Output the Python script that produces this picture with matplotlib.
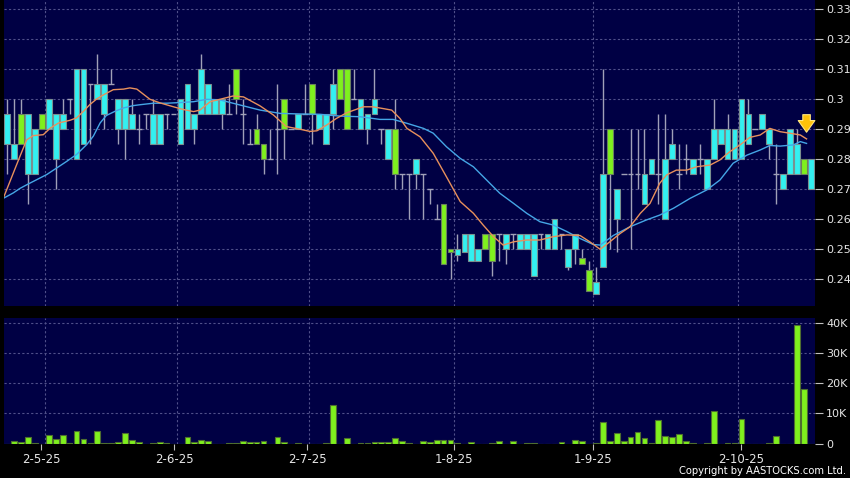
import matplotlib
matplotlib.use("Agg")
import matplotlib.pyplot as plt
import numpy as np

# ---------------- data ----------------
opens = [
    .285, .28, .295, .275, .275, .295, .29, .28, .29, .30,
    .28, .285, .305, .30, .295, .305, .29, .29, .29, .29,
    .295, .285, .285, .295, .295, .285, .29, .29, .295, .295,
    .295, .295, .295, .31, .295, .285, .29, .285, .28, .29,
    .30, .29, .29, .295, .305, .29, .285, .295, .31, .31,
    .30, .29, .29, .295, .29, .28, .29, .275, .275, .275,
    .275, .27, .26, .265, .25, .248, .249, .246, .246, .255,
    .255, .255, .25, .255, .25, .25, .241, .255, .25, .25,
    .255, .244, .25, .247, .243, .235, .244, .29, .26, .275,
    .275, .275, .265, .275, .275, .26, .28, .275, .28, .275,
    .28, .27, .28, .285, .28, .28, .28, .285, .29, .29,
    .285, .275, .27, .275, .275, .28, .27]
closes = [
    .295, .285, .285, .295, .29, .29, .30, .295, .295, .30,
    .31, .31, .305, .305, .305, .305, .30, .30, .295, .29,
    .295, .295, .295, .295, .295, .30, .305, .295, .31, .305,
    .30, .30, .295, .30, .295, .285, .285, .28, .28, .29,
    .29, .29, .295, .295, .295, .295, .295, .305, .30, .29,
    .30, .30, .295, .30, .29, .29, .275, .275, .275, .28,
    .275, .27, .26, .245, .249, .25, .255, .255, .25, .25,
    .246, .255, .255, .255, .255, .255, .255, .255, .255, .26,
    .255, .25, .255, .245, .236, .239, .275, .275, .27, .275,
    .275, .275, .275, .28, .275, .28, .285, .275, .28, .28,
    .28, .28, .29, .29, .29, .29, .30, .295, .29, .295,
    .29, .275, .275, .29, .285, .275, .28]
highs = [
    .30, .30, .30, .295, .29, .295, .30, .295, .30, .30,
    .31, .31, .305, .315, .305, .31, .30, .30, .30, .295,
    .295, .30, .295, .295, .295, .30, .305, .295, .315, .305,
    .30, .30, .305, .31, .30, .29, .295, .285, .29, .305,
    .30, .29, .295, .305, .305, .295, .295, .31, .31, .31,
    .31, .30, .295, .31, .29, .29, .30, .275, .275, .28,
    .275, .27, .265, .265, .25, .255, .255, .255, .25, .255,
    .255, .255, .255, .255, .255, .255, .255, .255, .255, .26,
    .255, .25, .255, .25, .246, .244, .31, .29, .27, .275,
    .29, .29, .29, .28, .295, .295, .29, .285, .285, .28,
    .285, .28, .30, .29, .295, .29, .30, .30, .29, .295,
    .29, .285, .275, .29, .29, .28, .28]
lows = [
    .275, .28, .285, .265, .275, .29, .29, .27, .29, .295,
    .28, .285, .285, .30, .29, .305, .285, .28, .29, .285,
    .29, .285, .285, .29, .295, .285, .29, .285, .295, .295,
    .295, .29, .295, .295, .285, .285, .285, .275, .28, .275,
    .28, .29, .29, .295, .285, .29, .285, .29, .30, .29,
    .30, .29, .285, .295, .285, .28, .27, .27, .26, .27,
    .26, .265, .26, .245, .24, .246, .249, .246, .246, .25,
    .241, .246, .245, .25, .25, .25, .241, .25, .25, .25,
    .25, .243, .245, .245, .236, .235, .244, .25, .249, .275,
    .25, .27, .265, .275, .265, .26, .28, .27, .275, .275,
    .275, .27, .28, .285, .28, .28, .28, .285, .29, .29,
    .28, .265, .27, .275, .275, .275, .27]
volume_k = [
    0, 0.8, 0.6, 2.3, 0.3, 0, 2.7, 1.6, 2.8, 0.2,
    4.1, 1.4, 0.3, 4.1, 0.3, 0.2, 0.4, 3.4, 1.0, 0.4,
    0, 0.3, 0.4, 0.3, 0, 0, 2.2, 0.4, 1.2, 0.7,
    0, 0, 0.2, 0.1, 0.8, 0.4, 0.4, 0.8, 0, 2.0,
    0.4, 0, 0.1, 0, 0, 0, 0.2, 12.8, 0, 1.7,
    0, 0.3, 0.3, 0.4, 0.4, 0.4, 1.9, 0.7, 0.2, 0,
    0.8, 0.5, 1.0, 1.1, 1.2, 0.1, 0, 0.4, 0, 0,
    0.3, 0.7, 0, 0.8, 0, 0.1, 0.1, 0, 0, 0,
    0.4, 0, 1.1, 0.7, 0, 0.3, 7.0, 0.7, 3.4, 0.8,
    2.2, 3.7, 1.8, 0.3, 7.7, 2.6, 2.2, 3.0, 0.8, 0.3,
    0, 0.3, 10.8, 0, 0.2, 0.2, 8.0, 0, 0, 0,
    0.3, 2.4, 0, 0, 39.4, 18.0, 0]

# moving averages (bar index, value)
ma10_x = [-0.48, 1.83, 2.8, 3.76, 5.2, 6.2, 7.4, 9.05, 10, 11, 11.9, 12.9, 13.9,
          15.3, 16.8, 17.7, 18.7, 20.6, 22.05, 24, 25.4, 26.9, 27.8, 29.3, 30.7,
          32.6, 34.1, 36.5, 38.4, 40.3, 42.3, 43.7, 44.7, 46.1, 47.5, 49, 51.4,
          52.8, 54.05, 55.5, 56.7, 57.7, 59.6, 61.5, 63.4, 65.4, 67.3, 68.7, 70.2,
          71.6, 73.1, 75, 76.9, 78.8, 80.8, 82.7, 84.1, 85.6, 87, 88.5, 89.9, 91.4,
          92.8, 94.2, 95.2, 96.6, 98.1, 99.5, 101.5, 102.9, 104.3, 105.8, 107.2,
          108.7, 110.1, 111.6, 113, 114.5, 115.4]
ma10_v = [.2675, .2809, .2864, .2878, .2881, .2903, .292, .2929, .2937, .2959, .2981,
          .30, .3014, .3031, .3033, .3037, .3033, .2999, .2987, .2974, .2965, .2958,
          .2963, .2991, .2999, .301, .3007, .2977, .2947, .2908, .2899, .2892, .2894,
          .2913, .2935, .2954, .2974, .2974, .2969, .2963, .2935, .2902, .2874, .2819,
          .2741, .2658, .2619, .258, .2541, .2513, .2524, .253, .253, .2541, .2547,
          .2545, .2524, .2499, .2524, .2552, .2574, .2619, .2652, .2719, .2747, .2763,
          .2763, .2774, .278, .2797, .2824, .2847, .2872, .288, .2902, .2891, .2886,
          .288, .2867]
ma20_x = [-0.48, 0.87, 1.83, 2.8, 4.24, 5.68, 7.13, 8.57, 10, 11.46, 12.42, 13.4,
          14.3, 15.55, 16.75, 18.2, 19.2, 21.1, 23, 24.9, 26.9, 28.8, 30.7, 33.6,
          36.5, 39.4, 42.3, 45.1, 48, 50.9, 53.8, 55.7, 57.7, 60.1, 61.5, 63.4, 65.4,
          67.3, 69.2, 71.1, 73.1, 75, 76.9, 78.8, 80.8, 82.7, 84.6, 85.6, 87.5, 89.9,
          92.3, 94.2, 96.2, 98.6, 101, 102.9, 104.8, 106.8, 108.7, 110.1, 111.6,
          113.5, 114.5, 115.4]
ma20_v = [.2670, .2687, .2702, .2714, .2731, .2748, .277, .2792, .2815, .2848, .2876,
          .292, .2945, .2959, .297, .2978, .2981, .2986, .2986, .2988, .2991, .2999,
          .2997, .298, .2963, .2952, .295, .2949, .2943, .2941, .2932, .2932, .2919,
          .2902, .2886, .2841, .2802, .2774, .273, .2686, .2652, .2619, .2591, .258,
          .2558, .2535, .2515, .2513, .2545, .2574, .2597, .2613, .2636, .2669, .2697,
          .273, .2786, .2813, .283, .2845, .2843, .2847, .2858, .2852]

price_ticks = [0.24, 0.25, 0.26, 0.27, 0.28, 0.29, 0.30, 0.31, 0.32, 0.33]
price_labels = ["0.24", "0.25", "0.26", "0.27", "0.28", "0.29", "0.3", "0.31", "0.32", "0.33"]
vol_ticks = [0, 10000, 20000, 30000, 40000]
vol_labels = ["0", "10K", "20K", "30K", "40K"]
date_labels = ["2-5-25", "2-6-25", "2-7-25", "1-8-25", "1-9-25", "2-10-25"]
date_pos = [4.9, 24.1, 43.3, 64.5, 84.5, 105.9]
grid_pos = [5.5, 24.5, 43.5, 64.5, 84.5, 105.5]

# ---------------- styling ----------------
NAVY = "#000044"
CYAN = "#33F0F0"
LIME = "#7FF01E"
GRID = "#50508a"
TXT = "#e6e6e6"

W, H = 850, 478
fig = plt.figure(figsize=(W / 100, H / 100), dpi=100, facecolor="black")
ax = fig.add_axes([4 / W, 1 - 306 / H, 811 / W, 306 / H], facecolor=NAVY)
axv = fig.add_axes([4 / W, 1 - 443.5 / H, 811 / W, 125.5 / H], facecolor=NAVY)

n = len(closes)
x = np.arange(n)
o = np.array(opens); c = np.array(closes)
h = np.array(highs); l = np.array(lows)
xlim = (-0.476, 116.62)

for a in (ax, axv):
    a.set_xlim(*xlim)
    for s in a.spines.values():
        s.set_visible(False)
    for g in grid_pos:
        a.axvline(g, color=GRID, lw=0.8, ls=(0, (2, 2)), zorder=1)

# price panel
ax.set_ylim(0.231, 0.333)
for p in price_ticks:
    ax.axhline(p, color=GRID, lw=0.8, ls=(0, (2, 2)), zorder=1)

ax.vlines(x, l, h, color="#a0a0b8", lw=1.0, zorder=2)
bw = 0.82
up = c > o
dn = c < o
fl = c == o
ax.bar(x[up], (c - o)[up], bottom=o[up], width=bw, color=CYAN,
       edgecolor="#7a9090", linewidth=0.8, zorder=3)
ax.bar(x[dn], (o - c)[dn], bottom=c[dn], width=bw, color=LIME,
       edgecolor="#6a8060", linewidth=0.8, zorder=3)
ax.hlines(c[fl], x[fl] - bw / 2, x[fl] + bw / 2, color="#a0a0b8", lw=1.0, zorder=3)

ax.plot(ma20_x, ma20_v, color="#45A6E6", lw=1.0, zorder=4)
ax.plot(ma10_x, ma10_v, color="#E8905C", lw=1.0, zorder=5)

# arrow marker near the latest bar
ax_x = n - 1 - 0.6
ax.annotate("", xy=(ax_x, 0.288), xytext=(ax_x, 0.2957),
            arrowprops=dict(arrowstyle="simple,head_length=0.7,head_width=1.0,tail_width=0.45",
                            fc="#FFC20A", ec="#FFE680", lw=0.8, mutation_scale=12),
            zorder=6)

ax.yaxis.tick_right()
ax.set_yticks(price_ticks)
ax.set_yticklabels(price_labels)
ax.set_xticks([])
ax.tick_params(axis="y", colors=TXT, labelsize=8, length=6, width=0.8, pad=2,
               color="#c0c0c0")

# volume panel
vol = np.array(volume_k) * 1000
axv.set_ylim(0, 41800)
for v in vol_ticks[1:]:
    axv.axhline(v, color=GRID, lw=0.8, ls=(0, (2, 2)), zorder=1)
axv.bar(x, vol, width=bw, color=LIME, edgecolor="#4e6e30", linewidth=0.8, zorder=3)
axv.yaxis.tick_right()
axv.set_yticks(vol_ticks)
axv.set_yticklabels(vol_labels)
axv.tick_params(axis="y", colors=TXT, labelsize=8, length=6, width=0.8, pad=2,
                color="#c0c0c0")
axv.set_xticks(date_pos)
axv.set_xticklabels(date_labels)
axv.tick_params(axis="x", colors=TXT, labelsize=8.5, length=4, width=0.8, pad=3,
                color="#c0c0c0")

fig.text(846 / W, 1 - 471 / H, "Copyright by AASTOCKS.com Ltd.", ha="right",
         va="center", color="white", fontsize=7.2)

fig.savefig("out.png", dpi=100, facecolor="black")
